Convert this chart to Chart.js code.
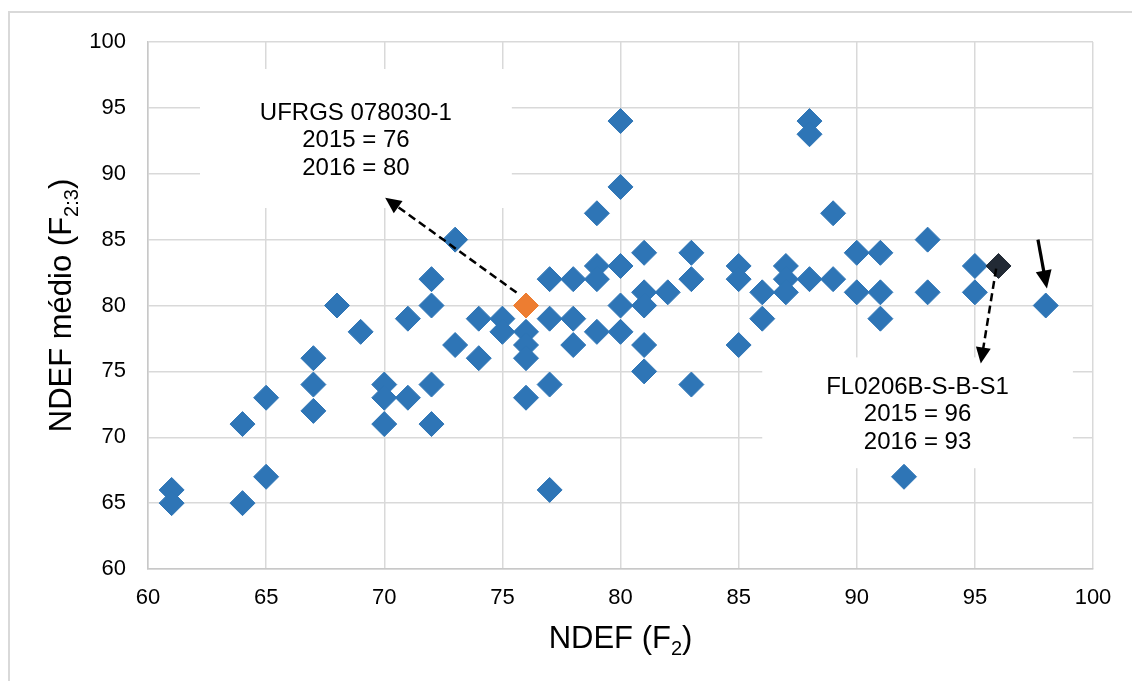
<!DOCTYPE html>
<html>
<head>
<meta charset="utf-8">
<script src="https://cdn.jsdelivr.net/npm/chart.js"></script>
<style>
  html, body { margin: 0; padding: 0; background: #fff; }
  #frame { position: absolute; left: 8px; top: 11px; width: 1200px; height: 720px; border: 2px solid #d9d9d9; }
  #wrap { position: absolute; left: 0; top: 0; width: 1132px; height: 681px; }
</style>
</head>
<body>
<div id="frame"></div>
<div id="wrap"><canvas id="graph1" width="1132" height="681"></canvas></div>
<script>
// NDEF (F2) x NDEF médio (F2:3)
const ndefF2 = [61, 61, 64, 64, 65, 65, 67, 67, 67, 68, 69, 70, 70, 70, 71, 71,
  72, 72, 72, 72, 73, 73, 74, 74, 75, 75, 76, 76, 76, 76, 77, 77, 77, 77,
  78, 78, 78, 79, 79, 79, 79, 80, 80, 80, 80, 80, 81, 81, 81, 81, 81, 82,
  83, 83, 83, 85, 85, 85, 86, 86, 87, 87, 87, 88, 88, 88, 89, 89, 90, 90,
  91, 91, 91, 92, 93, 93, 95, 95, 98];
const ndefF23 = [66, 65, 71, 65, 73, 67, 76, 74, 72, 80, 78, 74, 73, 71, 79, 73,
  82, 80, 74, 71, 85, 77, 79, 76, 79, 78, 78, 77, 76, 73, 82, 79, 74, 66,
  82, 79, 77, 87, 83, 82, 78, 94, 89, 83, 80, 78, 84, 81, 80, 77, 75, 81,
  84, 82, 74, 83, 82, 77, 81, 79, 83, 82, 81, 94, 93, 82, 87, 82, 84, 81,
  84, 81, 79, 67, 85, 81, 83, 81, 80];

// genótipos destacados
const ufrgsX = [76];
const ufrgsY = [80];
const flX = [96];
const flY = [83];

const axisTicks = [60, 65, 70, 75, 80, 85, 90, 95, 100];

const toPoints = (xs, ys) => xs.map((x, i) => ({ x: x, y: ys[i] }));

// caixas de texto e setas (em unidades dos eixos)
const notes = [
  { lines: ['UFRGS 078030-1', '2015 = 76', '2016 = 80'], x0: 62.2, x1: 75.4, y0: 97.95, y1: 87.4 },
  { lines: ['FL0206B-S-B-S1', '2015 = 96', '2016 = 93'], x0: 86.0, x1: 99.15, y0: 76.06, y1: 67.65 }
];
const arrows = [
  { from: [75.6, 80.98], to: [70.04, 88.18], dash: true },
  { from: [95.9, 82.8], to: [95.25, 75.6], dash: true },
  { from: [97.67, 85.0], to: [98.05, 81.29], dash: false }
];

const FONT = "'Liberation Sans', Arial, sans-serif";

function drawArrow(ctx, x1, y1, x2, y2, dash) {
  const ang = Math.atan2(y2 - y1, x2 - x1);
  const hl = dash ? 16 : 18, hw = dash ? 7.5 : 8;
  ctx.save();
  ctx.strokeStyle = '#000';
  ctx.fillStyle = '#000';
  ctx.lineWidth = dash ? 2.5 : 3.2;
  ctx.setLineDash(dash ? [8, 4.5] : []);
  ctx.beginPath();
  ctx.moveTo(x1, y1);
  ctx.lineTo(x2 - Math.cos(ang) * hl * 0.8, y2 - Math.sin(ang) * hl * 0.8);
  ctx.stroke();
  ctx.setLineDash([]);
  ctx.beginPath();
  ctx.moveTo(x2, y2);
  ctx.lineTo(x2 - Math.cos(ang) * hl + Math.sin(ang) * hw, y2 - Math.sin(ang) * hl - Math.cos(ang) * hw);
  ctx.lineTo(x2 - Math.cos(ang) * hl - Math.sin(ang) * hw, y2 - Math.sin(ang) * hl + Math.cos(ang) * hw);
  ctx.closePath();
  ctx.fill();
  ctx.restore();
}

// desenha texto com subscrito; retorna largura
function subText(ctx, parts, x, y, big, small, measureOnly) {
  let w = 0;
  parts.forEach(p => {
    ctx.font = (p.sub ? small : big) + 'px ' + FONT;
    if (!measureOnly) ctx.fillText(p.t, x + w, y + (p.sub ? big * 0.22 : 0));
    w += ctx.measureText(p.t).width;
  });
  return w;
}

const notesPlugin = {
  id: 'notes',
  beforeDatasetsDraw(chart) {
    const { ctx, scales: { x, y } } = chart;
    ctx.save();
    notes.forEach(n => {
      const l = x.getPixelForValue(n.x0), r = x.getPixelForValue(n.x1);
      const t = y.getPixelForValue(n.y0), b = y.getPixelForValue(n.y1);
      ctx.fillStyle = '#fff';
      ctx.fillRect(l, t, r - l, b - t);
      ctx.fillStyle = '#000';
      ctx.font = '24px ' + FONT;
      ctx.textAlign = 'center';
      ctx.textBaseline = 'middle';
      const lh = 27.5, cy = (t + b) / 2 + 2;
      n.lines.forEach((s, i) => ctx.fillText(s, (l + r) / 2, cy + (i - 1) * lh));
    });
    ctx.restore();
  },
  afterDatasetsDraw(chart) {
    const { ctx, scales: { x, y } } = chart;
    arrows.forEach(a => drawArrow(ctx,
      x.getPixelForValue(a.from[0]), y.getPixelForValue(a.from[1]),
      x.getPixelForValue(a.to[0]), y.getPixelForValue(a.to[1]), a.dash));
  },
  afterDraw(chart) {
    const { ctx, chartArea } = chart;
    ctx.save();
    ctx.fillStyle = '#000';
    ctx.textAlign = 'left';
    ctx.textBaseline = 'alphabetic';
    // título do eixo X
    const xp = [{ t: 'NDEF (F' }, { t: '2', sub: true }, { t: ')' }];
    let w = subText(ctx, xp, 0, 0, 31, 20, true);
    subText(ctx, xp, (chartArea.left + chartArea.right) / 2 - w / 2, 648, 31, 20, false);
    // título do eixo Y
    const yp = [{ t: 'NDEF médio (F' }, { t: '2:3', sub: true }, { t: ')' }];
    w = subText(ctx, yp, 0, 0, 31, 20, true);
    ctx.translate(71, (chartArea.top + chartArea.bottom) / 2);
    ctx.rotate(-Math.PI / 2);
    subText(ctx, yp, -w / 2, 0, 31, 20, false);
    ctx.restore();
  }
};

const gridCfg = { color: '#d9d9d9', lineWidth: 1.5, drawTicks: false };
const tickFont = { family: FONT, size: 22 };

new Chart(document.getElementById('graph1'), {
  type: 'scatter',
  data: {
    datasets: [
      {
        label: 'UFRGS 078030-1',
        data: toPoints(ufrgsX, ufrgsY),
        backgroundColor: '#ED7D31', borderColor: '#ED7D31',
        pointStyle: 'rectRot', pointRadius: 12.5, borderWidth: 1
      },
      {
        label: 'FL0206B-S-B-S1',
        data: toPoints(flX, flY),
        backgroundColor: '#222A35', borderColor: '#222A35',
        pointStyle: 'rectRot', pointRadius: 12.5, borderWidth: 1
      },
      {
        label: 'Genótipos',
        data: toPoints(ndefF2, ndefF23),
        backgroundColor: '#2E75B6', borderColor: '#2E75B6',
        pointStyle: 'rectRot', pointRadius: 12.5, borderWidth: 1
      }
    ]
  },
  options: {
    responsive: false,
    devicePixelRatio: 1,
    animation: false,
    layout: { padding: { top: 42, right: 39, left: 0, bottom: 0 } },
    plugins: { legend: { display: false }, tooltip: { enabled: false } },
    scales: {
      x: {
        type: 'linear', min: 60, max: 100,
        afterBuildTicks: s => { s.ticks = axisTicks.map(v => ({ value: v })); },
        afterFit: s => { s.height = 112; },
        ticks: { font: tickFont, color: '#000', padding: 16 },
        grid: gridCfg,
        border: { color: '#c8c8c8', width: 1.5 }
      },
      y: {
        type: 'linear', min: 60, max: 100,
        afterBuildTicks: s => { s.ticks = axisTicks.map(v => ({ value: v })); },
        afterFit: s => { s.width = 148; },
        ticks: { font: tickFont, color: '#000', padding: 22 },
        grid: gridCfg,
        border: { color: '#c8c8c8', width: 1.5 }
      }
    }
  },
  plugins: [notesPlugin]
});
</script>
</body>
</html>
